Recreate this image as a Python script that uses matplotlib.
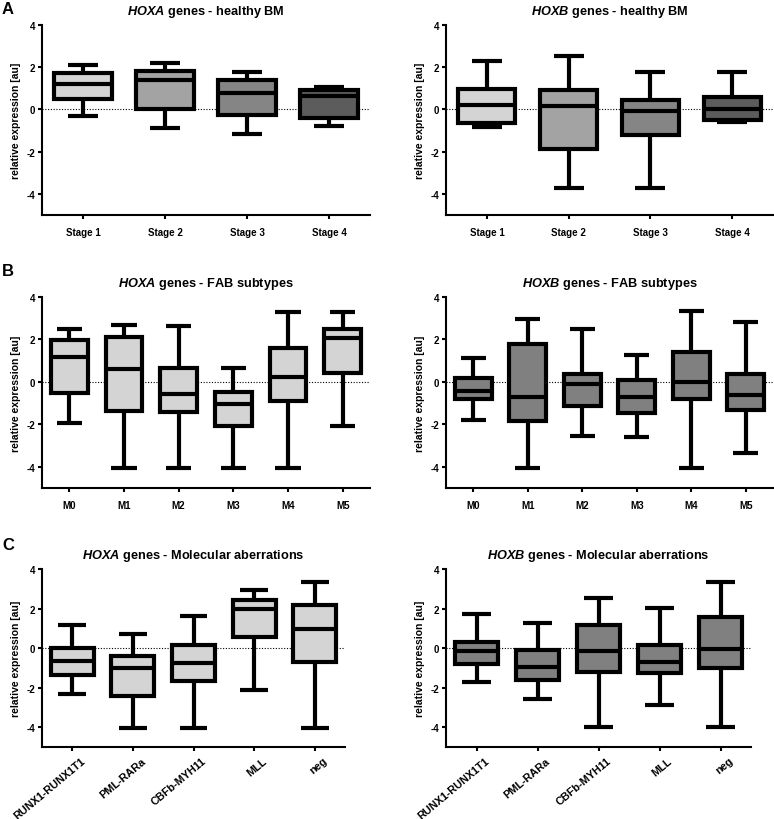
import matplotlib
matplotlib.use("Agg")
import matplotlib.pyplot as plt
import matplotlib.transforms as mtransforms

plt.rcParams['font.family'] = ['Liberation Sans', 'DejaVu Sans']
plt.rcParams['font.weight'] = 'bold'
plt.rcParams['mathtext.fontset'] = 'custom'
plt.rcParams['mathtext.bfit'] = 'Liberation Sans:italic:bold'
plt.rcParams['mathtext.bf'] = 'Liberation Sans:bold'
plt.rcParams['mathtext.it'] = 'Liberation Sans:italic:bold'
plt.rcParams['mathtext.rm'] = 'Liberation Sans:bold'

# ---- data: (whisker_low, Q1, median, Q3, whisker_high) ----
stages = ["Stage 1", "Stage 2", "Stage 3", "Stage 4"]
hoxa_bm_low = [-0.30, -0.90, -1.15, -0.79]
hoxa_bm_q1 = [0.50, 0.03, -0.24, -0.40]
hoxa_bm_med = [1.19, 1.40, 0.79, 0.63]
hoxa_bm_q3 = [1.74, 1.82, 1.38, 0.90]
hoxa_bm_high = [2.10, 2.21, 1.79, 1.08]

hoxb_bm_low = [-0.81, -3.73, -3.73, -0.60]
hoxb_bm_q1 = [-0.63, -1.85, -1.23, -0.52]
hoxb_bm_med = [0.19, 0.16, -0.05, 0.00]
hoxb_bm_q3 = [0.98, 0.90, 0.44, 0.57]
hoxb_bm_high = [2.29, 2.55, 1.79, 1.79]

fab = ["M0", "M1", "M2", "M3", "M4", "M5"]
hoxa_fab_low = [-1.92, -4.07, -4.07, -4.07, -4.07, -2.10]
hoxa_fab_q1 = [-0.50, -1.36, -1.44, -2.10, -0.89, 0.44]
hoxa_fab_med = [1.17, 0.59, -0.58, -1.02, 0.25, 2.07]
hoxa_fab_q3 = [1.96, 2.11, 0.64, -0.47, 1.58, 2.47]
hoxa_fab_high = [2.47, 2.68, 2.63, 0.67, 3.29, 3.29]

hoxb_fab_low = [-1.78, -4.07, -2.54, -2.58, -4.07, -3.35]
hoxb_fab_q1 = [-0.81, -1.83, -1.13, -1.47, -0.81, -1.33]
hoxb_fab_med = [-0.45, -0.70, -0.11, -0.70, 0.00, -0.63]
hoxb_fab_q3 = [0.20, 1.80, 0.39, 0.09, 1.41, 0.36]
hoxb_fab_high = [1.14, 2.97, 2.47, 1.27, 3.33, 2.83]

mol = ["RUNX1-RUNX1T1", "PML-RARa", "CBFb-MYH11", "MLL", "neg"]
hoxa_mol_low = [-2.32, -4.02, -4.02, -2.10, -4.02]
hoxa_mol_q1 = [-1.34, -2.40, -1.65, 0.57, -0.69]
hoxa_mol_med = [-0.67, -1.00, -0.77, 1.97, 0.96]
hoxa_mol_q3 = [0.02, -0.42, 0.15, 2.45, 2.17]
hoxa_mol_high = [1.16, 0.69, 1.61, 2.94, 3.33]

hoxb_mol_low = [-1.69, -2.57, -4.01, -2.87, -4.01]
hoxb_mol_q1 = [-0.79, -1.59, -1.19, -1.28, -0.99]
hoxb_mol_med = [-0.13, -0.97, -0.13, -0.69, -0.02]
hoxb_mol_q3 = [0.29, -0.10, 1.16, 0.15, 1.58]
hoxb_mol_high = [1.71, 1.28, 2.55, 2.03, 3.36]

stage_colors = ["#d4d4d4", "#a3a3a3", "#858585", "#5c5c5c"]
light = "#d4d4d4"
mid = "#808080"

W, H = 774, 820
fig = plt.figure(figsize=(W / 100, H / 100), dpi=100)


def px_axes(l, r, t, b):
    return fig.add_axes([l / W, 1 - b / H, (r - l) / W, (b - t) / H])


def panel(ax, labels, low, q1, med, q3, high, colors, title, capw, boxw=0.70, rot=False):
    stats = []
    for lab, lo, a, m, c, hi in zip(labels, low, q1, med, q3, high):
        stats.append(dict(label=lab, whislo=lo, q1=a, med=m, q3=c, whishi=hi, fliers=[]))
    lw = 3.0
    bp = ax.bxp(stats, positions=range(1, len(labels) + 1), widths=boxw,
                capwidths=capw, patch_artist=True, showfliers=False,
                boxprops=dict(linewidth=lw, edgecolor='black'),
                whiskerprops=dict(linewidth=lw, color='black', solid_capstyle='butt'),
                capprops=dict(linewidth=lw, color='black', solid_capstyle='butt'),
                medianprops=dict(linewidth=lw, color='black', solid_capstyle='butt'))
    for patch, col in zip(bp['boxes'], colors):
        patch.set_facecolor(col)
        patch.set_joinstyle('miter')
    ax.axhline(0, color='black', lw=0.8, ls=(0, (1, 1.5)), zorder=0)
    ax.set_xlim(0.5, len(labels) + 0.5)
    ax.set_ylim(-5, 4)
    ax.set_yticks([-4, -2, 0, 2, 4])
    ax.set_yticklabels(["-4", "-2", "0", "2", "4"])
    for s in ['top', 'right']:
        ax.spines[s].set_visible(False)
    for s in ['left', 'bottom']:
        ax.spines[s].set_linewidth(1.5)
    ax.tick_params(axis='both', direction='out', length=3, width=1.5, labelsize=7, pad=2)
    if rot:
        ax.set_xticks(range(1, len(labels) + 1))
        ax.set_xticklabels(labels, rotation=40, ha='right', va='top',
                           rotation_mode='anchor', fontsize=7.8)
        ax.tick_params(axis='x', pad=3)
        off = mtransforms.ScaledTranslation(0.08, 0.0, fig.dpi_scale_trans)
        for t in ax.get_xticklabels():
            t.set_transform(t.get_transform() + off)
    else:
        ax.tick_params(axis='x', pad=6)
    for t in ax.get_xticklabels() + ax.get_yticklabels():
        t.set_fontweight('bold')
    ax.set_ylabel("relative expression [au]", fontsize=7.5, fontweight='bold', labelpad=4)
    ax.set_title(title, fontsize=9.2, fontweight='bold', pad=8)


ax = px_axes(42, 370, 26, 216)
panel(ax, stages, hoxa_bm_low, hoxa_bm_q1, hoxa_bm_med, hoxa_bm_q3, hoxa_bm_high,
      stage_colors, r"$\mathbfit{HOXA}$ genes - healthy BM", 0.37)
ax = px_axes(446, 773, 26, 216)
panel(ax, stages, hoxb_bm_low, hoxb_bm_q1, hoxb_bm_med, hoxb_bm_q3, hoxb_bm_high,
      stage_colors, r"$\mathbfit{HOXB}$ genes - healthy BM", 0.37)

ax = px_axes(42, 370, 298, 489)
panel(ax, fab, hoxa_fab_low, hoxa_fab_q1, hoxa_fab_med, hoxa_fab_q3, hoxa_fab_high,
      [light] * 6, r"$\mathbfit{HOXA}$ genes - FAB subtypes", 0.46, boxw=0.67)
ax = px_axes(446, 773, 298, 489)
panel(ax, fab, hoxb_fab_low, hoxb_fab_q1, hoxb_fab_med, hoxb_fab_q3, hoxb_fab_high,
      [mid] * 6, r"$\mathbfit{HOXB}$ genes - FAB subtypes", 0.46, boxw=0.67)

ax = px_axes(42, 345, 570, 748)
panel(ax, mol, hoxa_mol_low, hoxa_mol_q1, hoxa_mol_med, hoxa_mol_q3, hoxa_mol_high,
      [light] * 5, r"$\mathbfit{HOXA}$ genes - Molecular aberrations", 0.46, boxw=0.71, rot=True)
ax = px_axes(446, 751, 570, 748)
panel(ax, mol, hoxb_mol_low, hoxb_mol_q1, hoxb_mol_med, hoxb_mol_q3, hoxb_mol_high,
      [mid] * 5, r"$\mathbfit{HOXB}$ genes - Molecular aberrations", 0.46, boxw=0.71, rot=True)

for letter, y in [("A", 10), ("B", 272), ("C", 546)]:
    fig.text(2 / W, 1 - y / H, letter, fontsize=12, fontweight='bold', va='center', ha='left')

fig.savefig("out.png", dpi=100)
